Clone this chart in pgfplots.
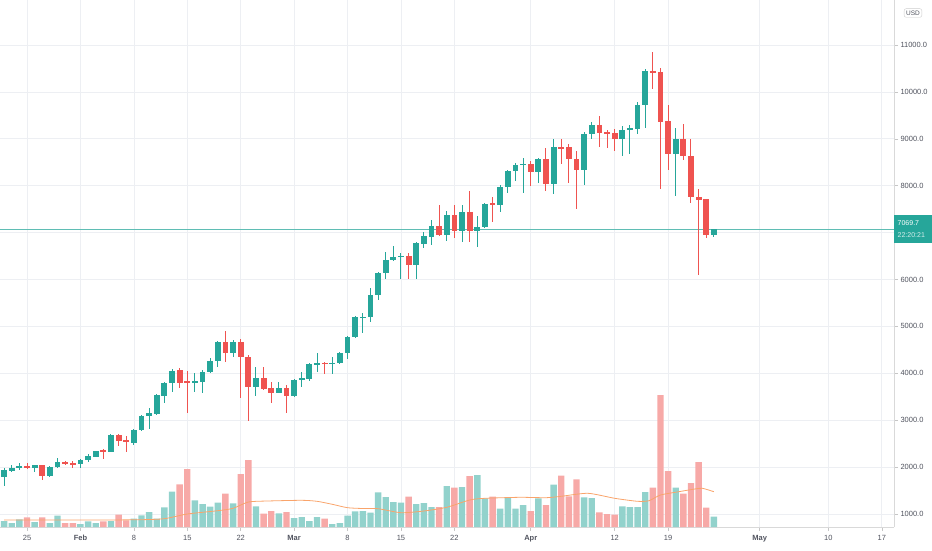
\documentclass[border=0pt]{standalone}
\usepackage{pgfplots}
\pgfplotsset{compat=1.18}
\usepackage{pgfplotstable}
\usepackage{fontspec}
\setmainfont{Liberation Sans}
\definecolor{tvup}{HTML}{26A69A}
\definecolor{tvdn}{HTML}{EF5350}
\definecolor{tvupv}{HTML}{92D2CC}
\definecolor{tvdnv}{HTML}{F7A9A7}
\definecolor{tvma}{HTML}{F9A46B}
\definecolor{tvgrd}{HTML}{EDEFF3}
\definecolor{tvlbl}{HTML}{50535E}
\definecolor{tvpl}{HTML}{5FBDB4}

\pgfplotstableread{
d o h l c v
-3 1786 1986 1607 1929 6
-2 1914 2036 1893 1986 4
-1 1979 2086 1943 2014 7.7
1 1979 2050 1893 2036 5
3 1807 2029 1786 2000 4
4 1993 2193 1979 2100 11.3
7 2057 2179 1986 2157 3
8 2143 2271 2107 2236 5.7
9 2214 2350 2207 2336 4
11 2329 2700 2321 2679 6
14 2521 2807 2464 2800 8.3
15 2786 3121 2771 3100 11.7
16 3086 3250 2821 3143 15
17 3129 3550 3107 3529 8.3
18 3514 3814 3371 3793 19.7
19 3786 4086 3607 4050 35.3
22 3800 4014 3607 3821 26.7
23 3807 4071 3571 4029 23
24 4021 4321 4014 4264 20.3
25 4264 4679 4129 4664 24.3
27 4443 4714 4343 4664 23.7
30 3714 4143 3521 3893 20.7
33 3586 3821 3571 3686 13.7
35 3514 3871 3500 3857 9
36 3864 4036 3714 3886 10
37 3871 4214 3829 4193 6
38 4191 4433 4021 4220 10
40 4200 4350 3986 4220 3
41 4220 4447 4200 4434 4
42 4433 4790 4305 4774 11.3
43 4774 5214 4760 5200 15.7
44 5185 5285 4859 5200 16
45 5200 5818 5086 5669 14.3
46 5662 6150 5555 6138 34.7
47 6131 6578 6010 6408 30
48 6408 6706 6386 6486 25
49 6479 6564 6010 6507 24.3
51 6315 6791 6010 6777 23
52 6763 7004 6670 6919 24
53 6905 7274 6734 7146 20
55 6955 7452 6827 7381 41
57 7040 7580 6791 7438 40
59 7040 7345 6684 7125 52
60 7111 7630 7090 7615 28.7
62 7594 8020 7430 7970 18.3
63 7970 8340 7850 8311 30
64 8304 8481 8090 8446 18.3
65 8446 8588 7850 8467 22
67 8290 8595 8063 8574 28.7
69 8034 9006 7821 8815 42.3
73 8325 9135 8020 9107 29.7
74 9100 9357 9000 9293 29
78 9000 9264 8643 9193 20.7
79 9193 9300 8679 9229 20
80 9200 9785 9093 9729 20
81 9721 10486 9229 10436 35
85 8686 9229 7786 9000 39.3
90 6943 7085 6900 7070 10.3
}\upc

\pgfplotstableread{
d o h l c v
0 2021 2086 1964 1979 9.7
2 2036 2050 1729 1807 9.7
5 2100 2136 2043 2079 4
6 2093 2129 1986 2057 4
10 2357 2393 2164 2329 5.7
12 2679 2714 2443 2557 12.3
13 2571 2657 2321 2529 6.7
20 4071 4107 3679 3800 42.7
21 3821 4057 3143 3800 58
26 4664 4893 4250 4443 33.3
28 4664 4729 3464 4343 53
29 4343 4393 2979 3714 67
31 3893 4143 3643 3657 13.3
32 3679 3821 3357 3586 16
34 3693 3750 3157 3514 15
39 4220 4250 3986 4200 8.3
50 6507 6564 6017 6315 30.3
54 7146 7594 6919 6955 20
56 7381 7594 6890 7040 39.3
58 7438 7878 6791 7040 51
61 7615 7757 7219 7594 30.3
66 8453 8524 7993 8290 16
68 8574 8807 7892 8041 22
70 8822 9006 8467 8794 51.3
71 8815 8886 8063 8574 30.7
72 8574 8737 7508 8325 47.7
75 9286 9479 8821 9121 14.7
76 9143 9193 8807 9107 13
77 9114 9214 8736 9000 12.3
82 10450 10850 10071 10407 39.3
83 10414 10514 7921 9364 132
84 9371 9714 8336 8686 56
86 9000 9314 8550 8643 33.3
87 8643 9000 7621 7764 44
88 7757 7921 6100 7700 65
89 7707 7721 6893 6950 19.3
}\dnc

\pgfplotstableread{
d v
-3 7
5 7
10 7
15 7.3
18 8.3
21 13
25 16.3
27 18.7
29 25
31.5 26
36 26.7
38 25.7
40 22.7
42 19.3
44 18.5
46 18.3
49 14.3
52 16
55 19.7
58 27
60 28.7
64.6 29.7
68 29.3
70 30.7
73.5 33.7
77 28.7
80 25.7
81.5 26.3
83 32
85.4 35.3
87.5 38
88.5 38.7
90 35.3
}\vma

\begin{document}
\begin{tikzpicture}
\begin{axis}[
  at={(0pt,0pt)}, anchor=south west,
  width=894pt, height=527pt, scale only axis,
  xmin=-3.54, xmax=113.6, ymin=722.8, ymax=11959,
  axis x line*=bottom, axis y line*=right,
  axis line style={draw=gray!30, line width=0.6pt},
  xtick={0,7,14,21,28,35,42,49,56,66,77,84,96,105,112},
  xticklabels={25,\textbf{Feb},8,15,22,\textbf{Mar},8,15,22,\textbf{Apr},12,19,\textbf{May},10,17},
  ytick={1000,2000,3000,4000,5000,6000,8000,9000,10000,11000},
  extra y ticks={7000}, extra y tick labels={},
  extra y tick style={grid=major, major tick length=0pt},
  scaled y ticks=false,
  grid=major, grid style={draw=tvgrd, line width=0.6pt},
  tick align=outside, major tick length=4pt,
  tick style={draw=gray!45, line width=0.5pt},
  ticklabel style={font=\fontsize{7.5}{8}\selectfont, text=tvlbl},
  yticklabel style={anchor=west, xshift=-1pt,
    /pgf/number format/fixed, /pgf/number format/fixed zerofill,
    /pgf/number format/precision=1, /pgf/number format/1000 sep={},
    /pgf/number format/assume math mode=true},
  xticklabel style={yshift=-1pt},
]
% volume
\addplot[ybar, bar width=6.4pt, bar shift=0pt, fill=tvupv, draw=none]
  table[x=d, y expr={722.8+21.32*\thisrow{v}}] {\upc};
\addplot[ybar, bar width=6.4pt, bar shift=0pt, fill=tvdnv, draw=none]
  table[x=d, y expr={722.8+21.32*\thisrow{v}}] {\dnc};
\addplot[draw=tvma, line width=0.8pt, smooth, tension=0.4, mark=none]
  table[x=d, y expr={722.8+21.32*\thisrow{v}}] {\vma};
% last price line
\addplot[draw=tvpl, line width=0.4pt, mark=none] coordinates {(-3.54,7069.7) (113.6,7069.7)};
% wicks
\addplot[draw=none, mark=none, error bars/.cd, y dir=both, y explicit, error mark=none,
  error bar style={draw=tvup, line width=1pt}]
  table[x=d, y expr={(\thisrow{h}+\thisrow{l})/2}, y error expr={(\thisrow{h}-\thisrow{l})/2}] {\upc};
\addplot[draw=none, mark=none, error bars/.cd, y dir=both, y explicit, error mark=none,
  error bar style={draw=tvdn, line width=1pt}]
  table[x=d, y expr={(\thisrow{h}+\thisrow{l})/2}, y error expr={(\thisrow{h}-\thisrow{l})/2}] {\dnc};
% bodies
\addplot[draw=none, mark=none, error bars/.cd, y dir=both, y explicit, error mark=none,
  error bar style={draw=tvup, line width=5.8pt}]
  table[x=d, y expr={(\thisrow{o}+\thisrow{c})/2}, y error expr={max(abs(\thisrow{c}-\thisrow{o})/2,16)}] {\upc};
\addplot[draw=none, mark=none, error bars/.cd, y dir=both, y explicit, error mark=none,
  error bar style={draw=tvdn, line width=5.8pt}]
  table[x=d, y expr={(\thisrow{o}+\thisrow{c})/2}, y error expr={max(abs(\thisrow{c}-\thisrow{o})/2,16)}] {\dnc};
\coordinate (lp) at (axis cs:113.6,7069.7);
\end{axis}
\node[fill=tvup, anchor=west, text width=31pt, minimum height=28pt, inner xsep=3.5pt, inner ysep=2pt,
  align=left, text=white, font=\fontsize{7}{12}\selectfont] at (lp) {7069.7\\\textcolor{white!80!tvup}{22:20:21}};
\node[draw=gray!40, rounded corners=2pt, font=\fontsize{6.5}{7}\selectfont, text=tvlbl, inner sep=2pt] at (913pt,514pt) {USD};
\pgfresetboundingbox
\useasboundingbox (0pt,-23pt) rectangle (932pt,527pt);
\end{tikzpicture}
\end{document}
